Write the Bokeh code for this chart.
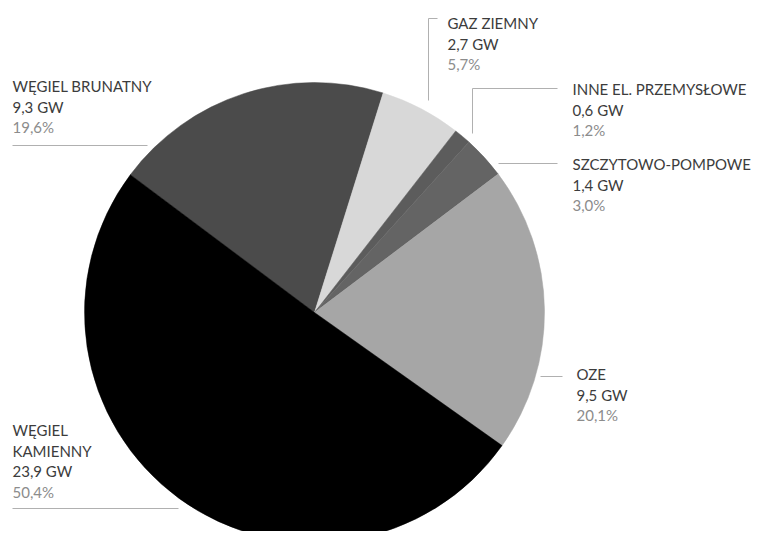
import math
from bokeh.plotting import figure
from bokeh.models import Range1d, ColumnDataSource
from bokeh.core.properties import value
from bokeh.embed import file_html
from bokeh.resources import INLINE

# ---- data ----
names = ["WĘGIEL BRUNATNY", "GAZ ZIEMNY", "INNE EL. PRZEMYSŁOWE",
         "SZCZYTOWO-POMPOWE", "OZE", "WĘGIEL\nKAMIENNY"]
gw = [9.3, 2.7, 0.6, 1.4, 9.5, 23.9]
gw_labels = ["9,3 GW", "2,7 GW", "0,6 GW", "1,4 GW", "9,5 GW", "23,9 GW"]
pct = [19.6, 5.7, 1.2, 3.0, 20.1, 50.4]
pct_labels = ["19,6%", "5,7%", "1,2%", "3,0%", "20,1%", "50,4%"]
colors = ["#4b4b4b", "#d8d8d8", "#5c5c5c", "#646464", "#a6a6a6", "#000000"]

W, H = 761, 531
IMG_H = 539

def Y(ys):  # screen y (reference pixels) -> data y (up)
    return IMG_H - ys

p = figure(width=W, height=H, output_backend="svg", toolbar_location=None,
           x_range=Range1d(0, W), y_range=Range1d(IMG_H - H, IMG_H),
           min_border=0)
p.axis.visible = False
p.grid.visible = False
p.outline_line_color = None
p.background_fill_color = "white"
p.border_fill_color = "white"

# ---- pie ----
cx, cy, r = 314, Y(312), 230
start0 = math.radians(143.2)
total = sum(pct)
starts, ends = [], []
cum = 0.0
for v in pct:
    a_end = start0 - 2 * math.pi * cum / total
    cum += v
    a_start = start0 - 2 * math.pi * cum / total
    starts.append(a_start)
    ends.append(a_end)
src = ColumnDataSource(dict(start=starts, end=ends, color=colors))
p.wedge(x=cx, y=cy, radius=r, start_angle="start", end_angle="end",
        direction="anticlock", fill_color="color", line_color="color",
        line_width=0.5, source=src)

# ---- leader lines ----
lc = "#b0b0b0"
p.line([12, 147], [Y(145), Y(145)], line_color=lc, line_width=1)          # brunatny
p.line([437, 428, 428], [Y(18), Y(18), Y(100)], line_color=lc, line_width=1)  # gaz
p.line([557, 472, 472], [Y(88), Y(88), Y(133)], line_color=lc, line_width=1)  # inne
p.line([498, 557], [Y(163), Y(163)], line_color=lc, line_width=1)          # szczytowo
p.line([540, 562], [Y(376), Y(376)], line_color=lc, line_width=1)          # oze
p.line([12, 178], [Y(508), Y(508)], line_color=lc, line_width=1)           # kamienny

# ---- labels ----
lab_x = [12, 447, 572, 572, 576, 12]
lab_y = [92, 29, 95, 170, 380, 436]
DY = -6.5
LH = 20.5
font = value("Lato")
dark = "#3c3c3c"
light = "#8c8c8c"
tx, ty, tt, tc = [], [], [], []
for i in range(len(names)):
    lines = names[i].split("\n")
    y = lab_y[i] + DY
    for ln in lines:
        tx.append(lab_x[i]); ty.append(Y(y)); tt.append(ln); tc.append(dark)
        y += LH
    tx.append(lab_x[i]); ty.append(Y(y)); tt.append(gw_labels[i]); tc.append(dark)
    y += LH
    tx.append(lab_x[i]); ty.append(Y(y)); tt.append(pct_labels[i]); tc.append(light)
tsrc = ColumnDataSource(dict(x=tx, y=ty, t=tt, c=tc))
p.text(x="x", y="y", text="t", text_color="c", text_font=font,
       text_font_size="15px", text_baseline="alphabetic", text_align="left",
       source=tsrc)

open("out.html", "w").write(file_html(p, INLINE))
